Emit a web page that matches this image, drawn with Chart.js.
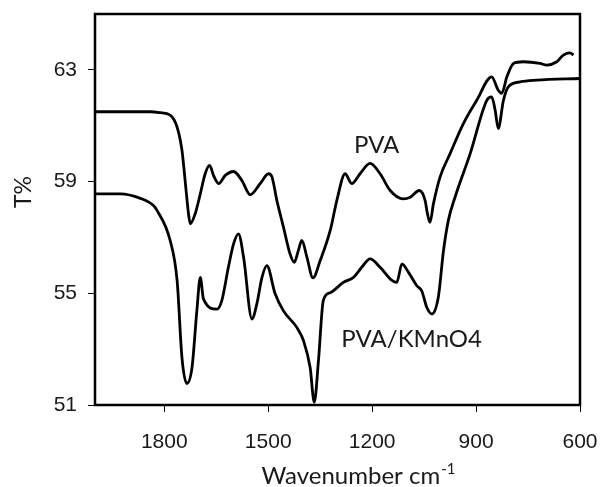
<!DOCTYPE html>
<html>
<head>
<meta charset="utf-8">
<script src="https://cdn.jsdelivr.net/npm/chart.js@4.4.1/dist/chart.umd.min.js"></script>
<style>
  html, body { margin: 0; padding: 0; background: #fff; }
  #wrap { width: 600px; height: 487px; }
</style>
</head>
<body>
<div id="wrap"><canvas id="ftir"></canvas></div>
<script>
// axis ticks
const xTicks = [1800, 1500, 1200, 900, 600];
const yTicks = [51, 55, 59, 63];

// PVA spectrum
const pvaWave = [2000, 1840, 1812, 1783, 1763, 1749, 1739, 1730, 1725, 1711, 1696, 1682, 1669, 1658, 1643,
  1624, 1600, 1576, 1552, 1523, 1499, 1489, 1475, 1456, 1437, 1425, 1413, 1403, 1388, 1371, 1350, 1321,
  1302, 1278, 1259, 1235, 1206, 1177, 1148, 1110, 1090, 1064, 1047, 1041, 1033, 1023, 1004, 975, 937,
  898, 855, 836, 826, 811, 792, 764, 715, 696, 667, 648, 629, 619];
const pvaT = [61.50, 61.50, 61.47, 61.38, 60.95, 60.12, 58.93, 57.84, 57.49, 57.84, 58.56, 59.28, 59.58, 59.22, 58.93,
  59.22, 59.36, 59.04, 58.53, 58.93, 59.28, 59.16, 58.32, 57.37, 56.41, 56.11, 56.53, 56.89, 56.28, 55.55, 56.17, 57.25,
  58.32, 59.28, 58.93, 59.28, 59.65, 59.28, 58.68, 58.38, 58.44, 58.68, 58.32, 57.89, 57.54, 58.21, 59.16, 60.00, 61.07,
  61.91, 62.75, 62.27, 62.16, 62.75, 63.23, 63.29, 63.23, 63.17, 63.29, 63.53, 63.61, 63.53];

// PVA/KMnO4 spectrum
const kmnWave = [2000, 1927, 1869, 1832, 1821, 1783, 1763, 1749, 1735, 1720, 1706, 1696, 1687, 1648, 1634,
  1615, 1600, 1586, 1571, 1547, 1533, 1518, 1504, 1480, 1456, 1417, 1398, 1379, 1367, 1355, 1341, 1321,
  1283, 1254, 1230, 1206, 1177, 1143, 1129, 1114, 1095, 1071, 1057, 1042, 1028, 1009, 994, 980, 961,
  917, 869, 855, 845, 836, 821, 807, 773, 725, 600];
const kmnT = [58.56, 58.56, 58.40, 58.15, 57.97, 56.89, 55.46, 52.70, 51.77, 52.34, 54.37, 55.57, 54.80, 54.43, 54.74,
  55.93, 56.77, 57.13, 56.28, 54.08, 54.61, 55.57, 55.99, 54.98, 54.37, 53.77, 53.30, 52.34, 51.10, 52.58, 54.74, 55.02,
  55.39, 55.57, 55.93, 56.23, 55.93, 55.46, 55.39, 56.05, 55.75, 55.27, 55.09, 54.49, 54.26, 54.86, 56.53, 57.61, 58.43,
  60.00, 61.91, 62.03, 61.56, 60.90, 61.91, 62.39, 62.57, 62.63, 62.69];

const seriesNames = ["PVA", "PVA/KMnO4"];
// where the series names sit (baseline centre), in data units [wavenumber, T%]
const nameSpots = [[1187, 60.02], [1086, 53.08]];

const textColor = '#1a1a1a';
const humanist = 'Lato, "Open Sans", sans-serif';

function pairs(xs, ys) {
  return xs.map((v, i) => ({ x: v, y: ys[i] }));
}

// box round the plot, axis titles and in-plot names
const decorations = {
  id: 'decorations',
  afterDraw(chart) {
    const { ctx, chartArea: a, scales: { x, y } } = chart;
    ctx.save();
    ctx.strokeStyle = '#000';
    ctx.lineWidth = 2.5;
    ctx.strokeRect(a.left, a.top, a.right - a.left, a.bottom - a.top);

    ctx.fillStyle = textColor;
    ctx.textBaseline = 'alphabetic';
    ctx.textAlign = 'center';
    ctx.font = '24px ' + humanist;
    seriesNames.forEach((name, i) => {
      ctx.fillText(name, x.getPixelForValue(nameSpots[i][0]), y.getPixelForValue(nameSpots[i][1]));
    });

    // x title with superscript
    const main = 'Wavenumber cm';
    const sup = '-1';
    ctx.font = '24px ' + humanist;
    const w1 = ctx.measureText(main).width;
    ctx.font = '15px ' + humanist;
    const w2 = ctx.measureText(sup).width;
    const cx = 358, base = 484;
    const start = cx - (w1 + w2) / 2;
    ctx.textAlign = 'left';
    ctx.font = '24px ' + humanist;
    ctx.fillText(main, start, base);
    ctx.font = '15px ' + humanist;
    ctx.fillText(sup, start + w1 + 1, base - 10);

    // y title
    ctx.translate(24, 192);
    ctx.rotate(-Math.PI / 2);
    ctx.textAlign = 'center';
    ctx.textBaseline = 'middle';
    ctx.font = '23px ' + humanist;
    ctx.fillText('T%', 0, 0);
    ctx.restore();
  }
};

new Chart(document.getElementById('ftir'), {
  type: 'line',
  data: {
    datasets: [
      { label: seriesNames[0], data: pairs(pvaWave, pvaT) },
      { label: seriesNames[1], data: pairs(kmnWave, kmnT) }
    ]
  },
  options: {
    responsive: true,
    maintainAspectRatio: false,
    animation: false,
    parsing: false,
    layout: { padding: { top: 14, right: 20, left: 0, bottom: 0 } },
    elements: {
      line: { borderColor: '#000', borderWidth: 2.8, cubicInterpolationMode: 'monotone', fill: false },
      point: { radius: 0 }
    },
    plugins: { legend: { display: false }, tooltip: { enabled: false } },
    scales: {
      x: {
        type: 'linear',
        reverse: true,
        min: 600,
        max: 2000,
        afterBuildTicks: s => { s.ticks = xTicks.map(v => ({ value: v })); },
        afterFit: s => { s.height = 82; s.paddingLeft = 0; s.paddingRight = 0; },
        border: { display: false },
        grid: { drawOnChartArea: false, drawTicks: true, tickLength: 7, color: '#000', lineWidth: 1 },
        ticks: { color: textColor, font: { family: '"Liberation Sans", Arial', size: 21 }, padding: 18, maxRotation: 0,
          callback: v => String(v) }
      },
      y: {
        min: 51,
        max: 65,
        afterBuildTicks: s => { s.ticks = yTicks.map(v => ({ value: v })); },
        afterFit: s => { s.width = 95; s.paddingTop = 0; s.paddingBottom = 0; },
        border: { display: false },
        grid: { drawOnChartArea: false, drawTicks: true, tickLength: 7, color: '#000', lineWidth: 1 },
        ticks: { color: textColor, font: { family: '"Liberation Sans", Arial', size: 21 }, padding: 11,
          callback: v => String(v) }
      }
    }
  },
  plugins: [decorations]
});
</script>
</body>
</html>
